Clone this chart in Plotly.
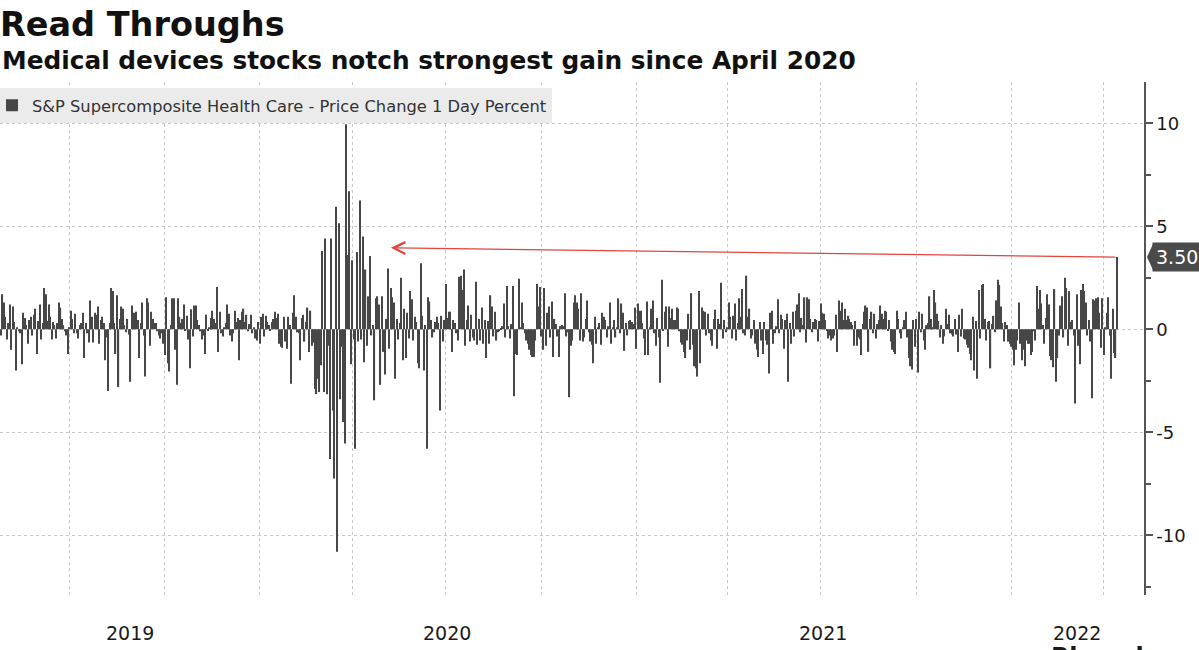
import pandas as pd
import plotly.graph_objects as go

TITLE = "Read Throughs"
SUBTITLE = "Medical devices stocks notch strongest gain since April 2020"
SERIES_NAME = "S&P Supercomposite Health Care - Price Change 1 Day Percent"
SOURCE_TEXT = "Bloomberg"

START_DATE = "2019-04-25"
NYSE_HOLIDAYS = [
    "2019-05-27", "2019-07-04", "2019-09-02", "2019-11-28", "2019-12-25",
    "2020-01-01", "2020-01-20", "2020-02-17", "2020-04-10", "2020-05-25",
    "2020-07-03", "2020-09-07", "2020-11-26", "2020-12-25",
    "2021-01-01", "2021-01-18", "2021-02-15", "2021-04-02", "2021-05-31",
    "2021-07-05", "2021-09-06", "2021-11-25", "2021-12-24",
    "2022-01-17", "2022-02-21", "2022-04-15",
]

# Daily % change (trading days)
CHANGE_2019 = [
    -0.3, 1.7, 1.3, 0.6, -0.5, 0.3, 1.2, -1.0, 1.1, 0.35,
    -2.0, 0.1, -0.1, -0.2, -1.7, 0.8, 0.55, 0.2, -0.7, 0.45,
    0.6, -0.3, 0.7, 1.0, -1.2, 0.4, 1.2, -0.5, 0.3, 2.0,
    1.7, 0.4, 1.2, 0.6, -0.5, 0.35, 0.2, -0.45, 0.3, 1.3,
    1.05, 0.5, 0.2, -0.1, -0.3, -1.2, 0.1, 0.9, 0.5, -0.2,
    0.75, -0.2, -0.45, 0.2, 0.3, 0.8, -1.4, 0.3, -0.2, -0.65,
    1.4, 0.6, -0.65, 0.8,
    0.7, 1.1, -0.7, 0.45, 0.6, 0.3, -1.5, -0.4, -3.0, 0.3,
    2.0, 1.85, 0.3, -1.2, 1.65, -2.8, 0.5, 1.1, 1.0, 0.2,
    -0.15, 0.5, -0.25, -2.55, 1.15, 0.8, 0.8, 0.85, 0.45, -1.4,
    0.3, 1.3, -0.3, -2.3, 1.5, 1.3, -0.8, 0.85, 0.5, 0.3,
    0.3, -0.1, -0.3, -0.45, -0.2, -0.7, -1.25, 1.55, -1.65, -2.05,
    0.2, 1.5, 1.5, -1.0, -2.7, 1.5, 0.6, 0.3, 0.5, 1.2,
    -0.05, 0.65, -0.5, -1.9,
    0.97, -0.35, 1.15, 1.15, 0.45, 0.2, -0.1, -0.5, -0.3, -1.2,
    0.7, -0.05, 0.1, 0.55, 0.9, 0.5, 0.3, 2.05, -1.1, 0.85,
    -0.2, -0.35, 0.1, 0.3, 1.2, 0.75, -0.3, -0.6, -0.2, 0.9,
    0.35, 0.55, -1.5, 0.45, 0.85, 1.0, 0.35, 0.7, -0.1, 0.25,
    0.7, -0.2, 0.1, -0.45, -0.55, 0.35,
]
CHANGE_2020 = [
    -0.7, 0.6, 0.75, -0.35,
    0.65, 0.35, 0.2, -0.05, 0.35, 0.5, 0.85, 0.55, 0.75, -0.7,
    -0.85, -0.9, 0.6, -0.6,
    -0.95, 0.6, 0.2, -2.65, 0.8, 1.65, 0.6, -0.15, -0.2, -1.5,
    0.55, 0.7, -0.6, 0.35, 1.05, -1.1, 0.9, -0.8, -0.65, -2.9,
    -3.15, -2.4, -3.05, -1.75, 3.8, -3.05, 4.4, -3.15, -0.8, -6.3,
    4.4, -3.95, -7.25, 5.95, -10.8, 5.15, -3.4, -0.85, -4.5, -5.55,
    9.95, 3.6, 6.7, -1.7, 3.35, -0.5, -5.8, 3.75, -0.6, 6.25,
    -0.5, 4.5, -1.6, 2.9, -0.8, 1.6, 3.55, -0.3, 0.2, -3.45,
    1.5, 1.6, 1.2, -2.7,
    1.6, -1.1, -2.2, 0.5, 2.95, -0.95, 2.0, 1.55, 1.3,
    -2.4, 0.5, -0.5, 0.3, 2.5, -1.5, 1.0, -1.4, 0.8, -0.45,
    1.85, 1.45, -0.55, 0.6, 0.35, -1.65, -1.9, 3.2, 0.65, -2.0,
    0.2, -5.8, 1.55, 1.35, 0.45, -0.4, -0.15, 0.35, 0.6, 0.3,
    -3.95, 0.65, -0.6, 0.45, 2.2, 0.55, 0.85, 0.85, -1.1, 0.45,
    0.3, -0.2, -0.55, 2.55, 2.6, 1.9, 2.9, -0.8, 0.45, 1.15,
    -0.6, 0.7, -0.4, -0.55,
    2.3, -0.75, 0.5, -0.55, 1.05, -0.7, 0.45, -1.4, 0.4, -0.7,
    1.65, 1.1, -0.35, 0.85, -0.55, -0.15, -0.1, 0.05, 0.15, 1.25,
    -0.4, 2.1, 0.15, -0.45, 0.25, 2.1, -3.25, -1.2, -1.25, 2.45,
    0.1, 1.3, 0.3, -0.2, -0.55, -0.7, -1.0, -1.25, -1.35, -1.35,
    -0.55, 2.2, 1.1, 2.05, -0.35, -1.0, 2.0, -0.8, 0.8, 1.1,
    -0.4, 1.35, -1.35, 0.5, 0.25, -0.35, -1.35, 0.15, 0.2, 0.15,
    1.75, -0.35, -0.15, -3.3,
    -0.8, -0.55, 1.3, 1.65, 1.3, 1.0, -0.55, 1.75, -0.6, -0.4,
    0.5, 1.4, -0.15, -0.6, -0.75, -1.65, 0.6, -0.7, 0.1, 0.3,
    -0.75, 0.8, 0.6, 0.45, -0.4, 0.15, 1.3, -0.7, 0.1, 0.45,
    -0.4, 0.1, 1.5, -0.2, 1.25, 0.8, -1.05, 0.3, -0.3, 0.4,
    0.45, 0.35, 0.25, 1.05,
]
CHANGE_2021 = [
    -0.95, 1.25, 0.9, 0.9, 0.3, -0.45,
    -1.25, 1.35, -1.25, 0.1, 1.0, 1.4, -0.2, -0.8, 0.55, -0.4,
    -2.6, 2.4, -0.05, 0.85,
    1.1, -0.85, 1.1, 0.55, 1.0, 0.45, 0.45, 1.05, 1.0, -0.1,
    -0.65, -0.75, -1.1, -1.4, -0.55, 0.75, -1.0, 1.75, -0.75, -1.8,
    -1.9, -2.3, 1.85, -1.65, 1.05, 0.9, 0.85, -0.3, 0.75, -0.2,
    -0.55, -0.8, 0.5, 0.95, -0.95, 0.5, 0.25, 2.25, -0.45, 0.45,
    -0.15, 0.1, 1.3, 0.6, -0.45, 0.65, 1.25, -0.55, 0.3, 1.5,
    0.6, 1.95, -0.2, -0.3, 2.6, 0.6, 1.0, -0.45, -0.3, 0.45,
    -0.7, -1.0, -1.35, 0.35,
    -0.55, -1.2, 0.35, -0.55, -0.75, -2.15, 0.8, 0.9, -0.7, -0.2,
    0.15, 1.45, -0.2, 0.7, 0.5, -0.95, 0.45, 0.75, -2.55, 0.3,
    -0.7, 0.85, -0.35, 0.9, 1.2, 1.75, -0.15, 0.55, 0.2, 1.55,
    -0.65, 1.55, 1.45, 0.5, -0.15, 0.35, 0.5, 0.45, -0.6, 0.4,
    1.25, 0.8, 0.75, 0.45, -0.05, -0.45, -0.3, -0.55, -0.45, -0.3,
    0.7, -1.1, 1.4, 0.9, 1.3, 0.45, 1.0, 0.45, 0.65, 0.5,
    0.35, 0.2, -0.8, 0.4,
    -0.8, -0.4, -0.5, -1.25, 0.25, 0.85, 1.15, 1.05, -1.1, 0.5,
    0.85, -0.2, 0.75, -0.45, 0.25, 0.45, 1.15, 0.75, 0.5, 0.9,
    0.85, -0.05, 0.45, -0.6, -1.0, -1.1, -1.2, 0.9, 0.5, -0.2,
    -0.45, 0.1, 0.45, 0.85, -0.4, -1.4, -1.8, -1.95, 0.45, -0.85,
    0.5, -2.1, 0.85, -0.15, 0.75, -0.55, -1.0, 0.2, 0.3, 1.6,
    0.5, 0.1, 1.9, 1.3, 0.75, 0.4, -0.4, 0.2, -0.7, -0.35,
    1.0, 0.25, 0.7, -0.2,
    -0.25, -0.35, 0.5, -0.25, -1.1, 0.7, -0.35, 1.0, -0.45, -0.5,
    -0.75, -0.9, -1.2, -1.5, 0.6, -2.0, 0.4, -2.4, 1.9, -0.45,
    2.15, 2.2, 0.5, -0.55, 0.35, 0.4, -1.9, 0.25, 0.65, -0.15,
    1.4, 2.4, 2.15, 1.1, 0.3, -0.6, 0.35, 0.2, -0.6, -0.7,
]
CHANGE_2022 = [
    -0.85, -1.0, -1.75, -1.0, -0.55, 1.3, -0.7, -1.5, -1.0, -1.8,
    -0.55, -0.7, -0.7, -1.25, -1.1, -0.1, -0.55, 2.1, 1.0, 1.9,
    1.25, 0.2, -0.7, 0.55,
    1.7, 1.2, -1.3, -1.5, -1.85, 1.95, -2.55, -1.4, -0.3, 1.15,
    1.6, -0.4, 2.5, 2.0, -0.8, 1.85, 0.35, 0.45, -0.3, -3.6,
    1.7, -0.8, -1.7, 1.9, 2.2, 1.85, 1.3, -0.3, 0.45, -0.6,
    -3.35, 1.45, 1.4, 1.5, 1.55, 0.8, -0.9, 1.5, -1.25, 0.1,
    0.8, 1.55, -0.3, -2.4, 1.0, -1.15, -1.4, 3.5,
]

Y_TICKS = [-10, -5, 0, 5, 10]
Y_TICK_LABELS = ["-10", "-5", "0", "5", "10"]
Y_MINOR_TICKS = [-12.5, -7.5, -2.5, 2.5, 7.5]
ARROW_HEAD_DATE = "2020-05-08"
ARROW_HEAD_VALUE = 3.95

BAR_COLOR = "#474747"
GRID_COLOR = "#c9c9c9"
ARROW_COLOR = "#e2453f"
TEXT_COLOR = "#1a1a1a"
AXIS_FONT = "DejaVu Sans"

values = CHANGE_2019 + CHANGE_2020 + CHANGE_2021 + CHANGE_2022
dates = pd.bdate_range(start=START_DATE, periods=len(values), freq="C",
                       holidays=NYSE_HOLIDAYS)
labels = dates.strftime("%Y-%m-%d").tolist()

x_range = [-0.67, len(values) - 1 + 18.1]

# quarterly gridlines at the first trading day of each quarter
quarters = dates.to_period("Q")
grid_dates = [labels[i] for i in range(1, len(labels)) if quarters[i] != quarters[i - 1]]

# year labels centred on the visible part of each year
years = list(dates.year)
year_pos = []
for yr in sorted(set(years)):
    idx = [i for i, y in enumerate(years) if y == yr]
    lo = max(idx[0] - 0.5, x_range[0])
    hi = x_range[1] if yr == years[-1] else idx[-1] + 0.5
    year_pos.append((str(yr), (lo + hi) / 2))

fig = go.Figure()
fig.add_trace(go.Bar(
    x=labels, y=values, name=SERIES_NAME,
    marker=dict(color=BAR_COLOR, line=dict(width=0)),
    showlegend=True,
))

fig.update_layout(
    width=1199, height=650,
    margin=dict(l=0, r=55, t=82, b=55, autoexpand=False),
    paper_bgcolor="white", plot_bgcolor="white",
    bargap=0.2,
    font=dict(family=AXIS_FONT, color=TEXT_COLOR),
    title=dict(
        text=f"<b>{TITLE}</b>", x=0, xanchor="left", xref="container",
        y=1 - 24 / 650, yanchor="middle", yref="container",
        font=dict(family="DejaVu Sans", size=33.5, color="#111111"),
    ),
    showlegend=True,
    legend=dict(
        x=-8 / 1144, xanchor="left", y=0.988, yanchor="top",
        bgcolor="#ebebeb", borderwidth=0,
        font=dict(family=AXIS_FONT, size=16.3, color="#333333"),
        itemwidth=30, itemclick=False,
    ),
    xaxis=dict(
        type="category", range=x_range,
        tickmode="array", tickvals=grid_dates, showticklabels=False,
        ticks="", showline=False, zeroline=False,
        showgrid=True, gridcolor=GRID_COLOR, gridwidth=1, griddash="3px,3px",
    ),
    yaxis=dict(
        side="right", range=[-12.9, 12.0],
        tickmode="array", tickvals=Y_TICKS, ticktext=Y_TICK_LABELS,
        ticks="outside", ticklen=7, tickwidth=1.5, tickcolor="#555555",
        tickfont=dict(family=AXIS_FONT, size=18, color=TEXT_COLOR),
        showline=True, linecolor="#555555", linewidth=1.5,
        zeroline=False,
        showgrid=True, gridcolor=GRID_COLOR, gridwidth=1, griddash="3px,3px",
        minor=dict(tickmode="array", tickvals=Y_MINOR_TICKS, ticks="outside",
                   ticklen=5, tickwidth=1.5, tickcolor="#555555", showgrid=False),
    ),
)

# subtitle
fig.add_annotation(
    text=f"<b>{SUBTITLE}</b>", xref="paper", yref="paper",
    x=0, y=1 + 22 / 513, xanchor="left", yanchor="middle",
    showarrow=False, font=dict(family="DejaVu Sans", size=24.8, color="#111111"),
)

# year labels
for txt, pos in year_pos:
    fig.add_annotation(
        text=txt, x=pos, xref="x", y=-38 / 513, yref="paper",
        xanchor="center", yanchor="middle", showarrow=False,
        font=dict(family=AXIS_FONT, size=19, color=TEXT_COLOR),
    )

# red arrow from the latest bar back to April 2020 levels
fig.add_annotation(
    x=ARROW_HEAD_DATE, y=ARROW_HEAD_VALUE, xref="x", yref="y",
    ax=labels[-1], ay=values[-1], axref="x", ayref="y",
    text="", showarrow=True, arrowhead=5, arrowsize=1.8, arrowwidth=1.3,
    arrowcolor=ARROW_COLOR, standoff=0, startstandoff=0,
)

# last value tag
last_val = values[-1]
fig.add_shape(
    type="path", xref="paper", yref="y", xsizemode="pixel", ysizemode="pixel",
    xanchor=1, yanchor=last_val,
    path="M 3,0 L 9,-13 L 9,13 Z",
    fillcolor="#4a4a4a", line=dict(width=0),
)
fig.add_annotation(
    text=f"{last_val:.2f}", xref="paper", yref="y", x=1, y=last_val,
    xanchor="left", yanchor="middle", xshift=8, showarrow=False,
    bgcolor="#4a4a4a", borderpad=3,
    font=dict(family=AXIS_FONT, size=19, color="white"),
)

# source wordmark (cut at the bottom edge, as in the original)
fig.add_annotation(
    text=f"<b>{SOURCE_TEXT}</b>", xref="paper", yref="paper",
    x=1199 / 1144, y=-(642 - 595) / 513,
    xanchor="right", yanchor="top", showarrow=False, borderpad=0,
    font=dict(family="DejaVu Sans", size=24, color=TEXT_COLOR),
)

fig.write_html("out.html")
